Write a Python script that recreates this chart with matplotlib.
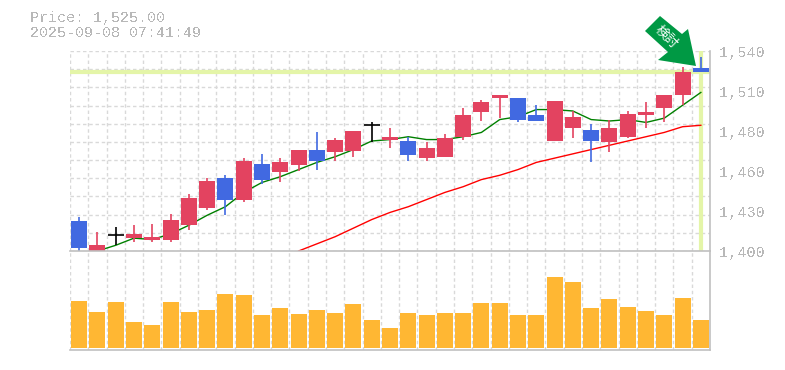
import matplotlib
matplotlib.use("Agg")
import numpy as np
import matplotlib.pyplot as plt
from matplotlib.patches import Polygon

plt.rcParams["text.antialiased"] = False

# daily prices
opens = [1421, 1400, 1411, 1409, 1408, 1408, 1418, 1430, 1451, 1436, 1461, 1455, 1460, 1471, 1469, 1470, 1488, 1478,
         1477, 1465, 1466, 1480, 1497, 1507, 1507, 1495, 1477, 1486, 1485, 1476, 1480, 1495, 1500, 1509, 1528]
highs = [1424, 1413, 1417, 1418, 1419, 1426, 1440, 1451, 1453, 1465, 1468, 1465, 1471, 1483, 1479, 1484, 1490, 1486,
         1480, 1476, 1482, 1500, 1506, 1509, 1507, 1502, 1505, 1498, 1489, 1492, 1498, 1504, 1509, 1529, 1536]
lows = [1400, 1400, 1404, 1406, 1406, 1406, 1415, 1429, 1425, 1434, 1447, 1448, 1456, 1457, 1463, 1466, 1476, 1472,
        1463, 1463, 1466, 1478, 1491, 1493, 1490, 1491, 1477, 1479, 1462, 1469, 1479, 1486, 1490, 1502, 1525]
closes = [1402, 1404, 1411, 1412, 1410, 1422, 1437, 1449, 1436, 1463, 1450, 1462, 1471, 1463, 1478, 1484, 1488, 1480,
          1467, 1472, 1479, 1495, 1504, 1509, 1492, 1491, 1505, 1494, 1477, 1486, 1496, 1497, 1509, 1525, 1525]
ma_short = [None, 1400, 1404, 1409, 1408, 1412, 1418, 1425, 1431, 1441, 1448, 1452, 1457, 1462, 1466, 1471, 1477, 1478,
            1480, 1478, 1478, 1480, 1483, 1492, 1494, 1499, 1499, 1498, 1492, 1491, 1492, 1490, 1493, 1502, 1511]
ma_long = [None] * 12 + [1400, 1405, 1410, 1416, 1422, 1427, 1431, 1436, 1441, 1445, 1450, 1453, 1457, 1462,
                         1465, 1468, 1471, 1474, 1477, 1480, 1483, 1487, 1488]
volumes = [47, 36, 46, 26, 23, 46, 36, 38, 54, 53, 33, 40, 34, 38, 35, 44, 28, 20,
           35, 33, 35, 35, 45, 45, 33, 33, 71, 66, 40, 49, 41, 37, 33, 50, 28]
# colour of each body, r up, b down, k no body
kinds = list("brkrrrrrbrbrrbrrkrbrrrrrbbrrbrrrrrb")
date_pos = [4, 9, 14, 19, 24, 29, 34]
date_labels = ["7/25", "8/1", "8/8", "8/18", "8/25", "9/1", "9/8"]
price_ticks = [1400, 1428, 1456, 1484, 1512, 1540]
price_labels = ["1,400", "1,430", "1,460", "1,480", "1,510", "1,540"]
last_price = 1525

W, H = 785, 370
RED, BLUE, ORANGE = "#e34360", "#4169e1", "#ffb733"
GRID, EDGE, TXT = "#d9d9d9", "#c0c0c0", "#b8b8b8"
colors = {"r": RED, "b": BLUE, "k": "black"}
mono = "Liberation Mono"

fig = plt.figure(figsize=(W / 100, H / 100), dpi=100)
ax = fig.add_axes([70 / W, 1 - 251 / H, 640 / W, 200 / H])
vol = fig.add_axes([70 / W, 1 - 350 / H, 640 / W, 99 / H])

n = len(closes)
x = np.arange(n)

for a in (ax, vol):
    a.set_xlim(-0.5, n - 0.5)
    a.set_xticks(x - 0.5, minor=False)
    a.tick_params(length=0, labelbottom=False, labelleft=False)
    a.grid(axis="x", color=GRID, ls=(0, (2.5, 2)), lw=1)
    a.set_axisbelow(True)
    for s in a.spines.values():
        s.set_visible(False)

ax.set_ylim(1400, 1540)
ax.set_yticks(1400 + np.arange(12) * 140 / 11)
ax.grid(axis="y", color=GRID, ls=(0, (2.5, 2)), lw=1)
ax.spines["right"].set_visible(True)
ax.spines["right"].set_color(EDGE)
ax.spines["right"].set_linewidth(1.2)

# last price cross hair
ax.axhline(last_price, color="#e4f5a8", lw=3, zorder=1)
ax.axvline(x[-1], color="#e4f5a8", lw=3, zorder=1)

ax.plot(x, [np.nan if v is None else v for v in ma_short], color="green", lw=1, zorder=2)
ax.plot(x, [np.nan if v is None else v for v in ma_long], color="red", lw=1, zorder=2)

for i in range(n):
    c = colors[kinds[i]]
    ax.vlines(x[i], lows[i], highs[i], color=c, lw=1.2, zorder=3)
    lo, hi = min(opens[i], closes[i]), max(opens[i], closes[i])
    if kinds[i] == "k":
        ax.hlines(closes[i], x[i] - 0.44, x[i] + 0.44, color=c, lw=1.2, zorder=3)
    else:
        ax.bar(x[i], hi - lo, bottom=lo, width=0.88, color=c, zorder=3)

for i, lab in zip(date_pos, date_labels):
    ax.text(i, 1400 - 6.5, lab, ha="center", va="center", color=TXT, fontsize=7.4, family=mono, clip_on=False)
for t, lab in zip(price_ticks, price_labels):
    ax.text(34.5, t - 1.4, " " + lab, ha="left", va="center", color=TXT, fontsize=10.9, family=mono, clip_on=False)

vol.bar(x, volumes, width=0.88, color=ORANGE, zorder=3)
vol.set_ylim(-2, 97)
for s in ("top", "bottom", "right"):
    vol.spines[s].set_visible(True)
    vol.spines[s].set_color(EDGE)
    vol.spines[s].set_linewidth(1.2)

fig.text(30 / W, 1 - 18 / H, "Price: 1,525.00", color=TXT, fontsize=10.8, family=mono, va="center")
fig.text(30 / W, 1 - 33 / H, "2025-09-08 07:41:49", color=TXT, fontsize=10.8, family=mono, va="center")

# green arrow badge
arrow = np.array([(696, 66), (688, 29), (682, 34), (660, 16), (645, 31), (668, 52), (658, 60)], dtype=float)
arrow[:, 0] /= W
arrow[:, 1] = 1 - arrow[:, 1] / H
fig.add_artist(Polygon(arrow, closed=True, color="#009944", transform=fig.transFigure, zorder=5, lw=0))
fig.text(666 / W, 1 - 37 / H, "検討", color="white", fontsize=9.5, rotation=-45,
         rotation_mode="anchor", ha="center", va="center", family=["Noto Sans CJK JP", "DejaVu Sans"], zorder=6,
         antialiased=True)

fig.savefig("out.png", dpi=100)
